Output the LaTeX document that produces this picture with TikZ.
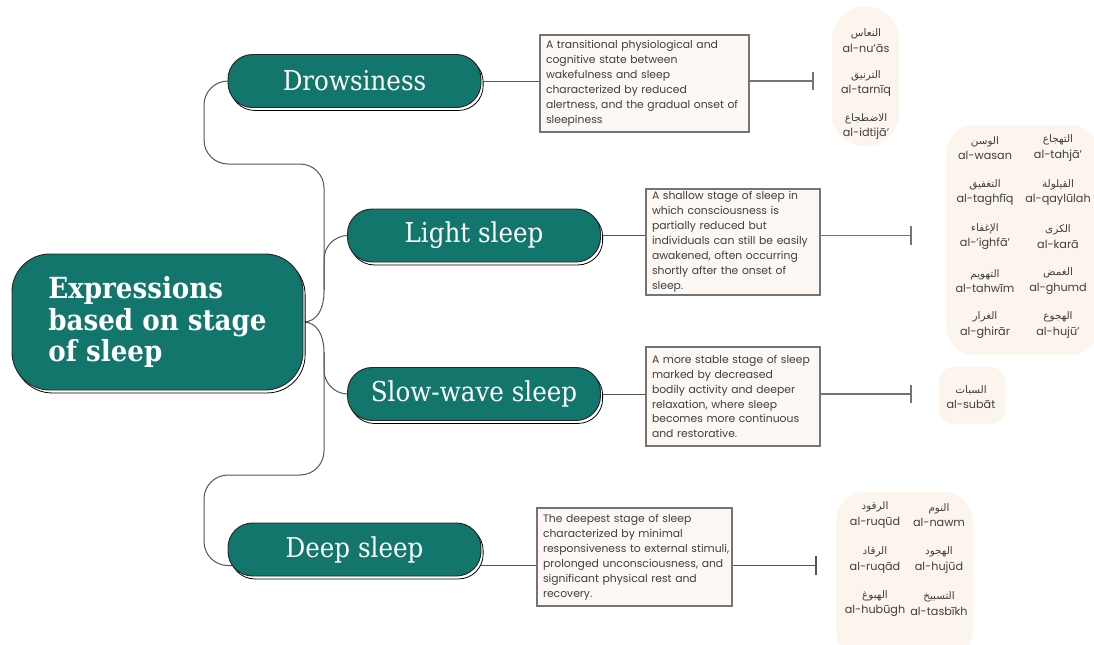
\documentclass[tikz,border=0pt]{standalone}
\usepackage{fontspec}
\setmainfont{DejaVu Serif}[FakeStretch=0.9]
\newfontfamily\popp{Poppins}
\newfontfamily\arabicfont[Script=Arabic]{DejaVu Sans}
\TeXXeTstate=1
\usetikzlibrary{shadows,arrows.meta}
\pgfdeclarelayer{background}
\pgfsetlayers{background,main}
\definecolor{tealfill}{HTML}{12766C}
\definecolor{descbg}{HTML}{FDF8F3}
\definecolor{termbg}{HTML}{FCF5EE}
\definecolor{txtgray}{HTML}{3F3F3F}
\definecolor{linegray}{HTML}{555555}
\definecolor{bargray}{HTML}{747474}
\newcommand\term[2]{{\arabicfont\fontsize{7.8pt}{9pt}\selectfont\beginR #1\endR}\\#2}
\begin{document}
\begin{tikzpicture}[x=0.75pt,y=-0.75pt,
 stagebox/.style={draw=black!85, line width=0.7pt, fill=tealfill, text=white, inner sep=0pt,
   drop shadow={shadow xshift=1.6pt, shadow yshift=-2.2pt, fill=white, draw=black, opacity=1, line width=0.6pt}},
 stagepill/.style={stagebox, minimum width=189.75pt, minimum height=39.75pt, rounded corners=18.5pt, font=\fontsize{20.5pt}{24pt}\selectfont},
 descbox/.style={draw=bargray, line width=0.8pt, fill=descbg, text=txtgray, align=left, inner xsep=4.5pt, inner ysep=0pt, font=\popp\fontsize{8.1pt}{11.2pt}\selectfont},
 termbox/.style={fill=termbg, draw=none, inner sep=0pt},
 termtext/.style={align=center, text=txtgray, inner sep=0pt, font=\popp\fontsize{8.4pt}{11.4pt}\selectfont},
 conn/.style={draw=linegray, line width=0.75pt},
 barconn/.style={draw=bargray, line width=1.2pt, -{Bar[width=14pt,line width=1.2pt]}}
]
\useasboundingbox (0,0) rectangle (1094,644);

% central and stage nodes
\node[stagebox, minimum width=218.25pt, minimum height=102pt, rounded corners=28.5pt, align=left,
      font=\bfseries\fontsize{21.8pt}{23.5pt}\selectfont] (central) at (157.5,322) {Expressions\\based on stage\\of sleep};
\node[stagepill] (drow) at (354.5,81) {Drowsiness};
\node[stagepill] (light) at (474,235.5) {Light sleep};
\node[stagepill] (slow) at (474,394) {Slow-wave sleep};
\node[stagepill] (deep) at (354.5,549.5) {Deep sleep};

% description boxes
\node[descbox, text width=147.75pt, minimum height=72.75pt] (d1) at (644.5,83.5)
 {A transitional physiological and\\cognitive state between\\wakefulness and sleep\\characterized by reduced\\\mbox{alertness, and the gradual onset of}\\sleepiness};
\node[descbox, text width=121.5pt, minimum height=79.5pt] (d2) at (733,242)
 {A shallow stage of sleep in\\which consciousness is\\partially reduced but\\\mbox{individuals can still be easily}\\awakened, often occurring\\shortly after the onset of\\sleep.};
\node[descbox, text width=121.5pt, minimum height=74.25pt] (d3) at (733,396.5)
 {\mbox{A more stable stage of sleep}\\marked by decreased\\bodily activity and deeper\\relaxation, where sleep\\\mbox{becomes more continuous}\\and restorative.};
\node[descbox, text width=137.25pt, minimum height=73.5pt] (d4) at (634.5,557)
 {The deepest stage of sleep\\characterized by minimal\\\mbox{responsiveness to external stimuli,}\\\mbox{prolonged unconsciousness, and}\\significant physical rest and\\recovery.};

% term blocks
\node[termbox, minimum width=50.25pt, minimum height=104.25pt, rounded corners=24pt] (T1) at (865.5,76.5) {};
\node[termbox, minimum width=115.5pt, minimum height=172.5pt, rounded corners=22.5pt] (T2) at (1023,240) {};
\node[termbox, minimum width=49.5pt, minimum height=42.75pt, rounded corners=10.5pt] (T3) at (972,395.5) {};
\node[termbox, minimum width=102.75pt, minimum height=126pt, rounded corners=22.5pt] (T4) at (904.5,576) {};

\node[termtext] (t1a) at (866,40.5) {\term{النعاس}{al-nu’ās}};
\node[termtext] (t1b) at (866,83.5) {\term{الترنيق}{al-tarnīq}};
\node[termtext] (t1c) at (866,126.5) {\term{الاضطجاع}{al-idtijā’}};

\node[termtext] (t2a) at (985,148) {\term{الوسن}{al-wasan}};
\node[termtext] (t2b) at (1058,148) {\term{التهجاع}{al-tahjā’}};
\node[termtext] (t2c) at (985,192.5) {\term{التغفيق}{al-taghfīq}};
\node[termtext] (t2d) at (1058,192.5) {\term{القيلولة}{al-qaylūlah}};
\node[termtext] (t2e) at (985,236.5) {\term{الإغفاء}{al-’ighfā’}};
\node[termtext] (t2f) at (1058,236.5) {\term{الكرى}{al-karā}};
\node[termtext] (t2g) at (985,281) {\term{التهويم}{al-tahwīm}};
\node[termtext] (t2h) at (1058,281) {\term{الغمض}{al-ghumd}};
\node[termtext] (t2i) at (985,325) {\term{الغرار}{al-ghirār}};
\node[termtext] (t2j) at (1058,325) {\term{الهجوع}{al-hujū’}};

\node[termtext] (t3a) at (971,397) {\term{السبات}{al-subāt}};

\node[termtext] (t4a) at (875,515) {\term{الرقود}{al-ruqūd}};
\node[termtext] (t4b) at (939,515) {\term{النوم}{al-nawm}};
\node[termtext] (t4c) at (875,560) {\term{الرقاد}{al-ruqād}};
\node[termtext] (t4d) at (939,560) {\term{الهجود}{al-hujūd}};
\node[termtext] (t4e) at (875,603.5) {\term{الهبوغ}{al-hubūgh}};
\node[termtext] (t4f) at (939,603.5) {\term{التسبيخ}{al-tasbīkh}};

% helper coordinates
\coordinate (deepW) at ([xshift=4pt,yshift=-12pt]deep.west);
\coordinate (deepE) at ([xshift=-4pt,yshift=-12pt]deep.east);
\coordinate (b1) at (814,81);
\coordinate (b2) at (912,235.5);
\coordinate (b3) at (912,394);
\coordinate (b4) at (817,565.5);

\begin{pgfonlayer}{background}
\fill[white] (0,0) rectangle (1094,644);
\draw[conn] (central.east) .. controls +(14,0) and +(0,16) .. (324,292)
  [rounded corners=18pt] -- (324,164) -- (204,164) -- (204,81) -- (drow.west);
\draw[conn, rounded corners=18pt] (324,290) -- (324,235.5) -- (light.west);
\draw[conn, rounded corners=18pt] (324,352) -- (324,394) -- (slow.west);
\draw[conn] (central.east) .. controls +(14,0) and +(0,-16) .. (324,352)
  [rounded corners=18pt] -- (324,475) -- (204,475) -- (204,565.5) -- (deepW);

\draw[conn] (drow.east) -- (drow.east -| d1.west);
\draw[conn] (light.east) -- (light.east -| d2.west);
\draw[conn] (slow.east) -- (slow.east -| d3.west);
\draw[conn] (deepE) -- (deepE -| d4.west);
\end{pgfonlayer}

\draw[barconn] (b1 -| d1.east) -- (b1);
\draw[barconn] (b2 -| d2.east) -- (b2);
\draw[barconn] (b3 -| d3.east) -- (b3);
\draw[barconn, draw=linegray] (b4 -| d4.east) -- (b4);
\end{tikzpicture}
\end{document}
